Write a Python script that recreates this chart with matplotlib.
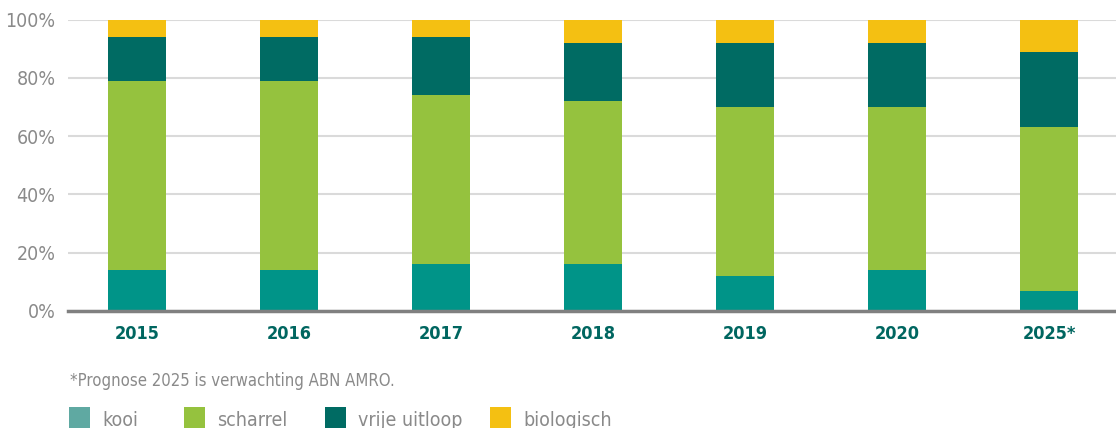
import matplotlib
matplotlib.use("Agg")
import matplotlib.pyplot as plt
from matplotlib.patches import Rectangle
import numpy as np

years = ["2015", "2016", "2017", "2018", "2019", "2020", "2025*"]
series = ["kooi", "scharrel", "vrije uitloop", "biologisch"]
kooi = [14, 14, 16, 16, 12, 14, 7]
scharrel = [65, 65, 58, 56, 58, 56, 56]
vrije_uitloop = [15, 15, 20, 20, 22, 22, 26]
biologisch = [6, 6, 6, 8, 8, 8, 11]
yticks = [0, 20, 40, 60, 80, 100]
footnote = "*Prognose 2025 is verwachting ABN AMRO."

bar_colors = ["#009488", "#95c23e", "#006b63", "#f4c012"]
legend_colors = ["#5fa9a2", "#95c23e", "#006b63", "#f4c012"]
grey = "#8a8a8a"

plt.rcParams["font.family"] = ["DejaVu Sans"]
plt.rcParams["font.stretch"] = "condensed"

W, H = 1116, 428
fig = plt.figure(figsize=(W / 100, H / 100), dpi=100)
ax = fig.add_axes([68 / W, 1 - 311 / H, 1 - 68 / W, (311 - 19.7) / H])

x = np.arange(len(years))
bottom = np.zeros(len(years))
for vals, c in zip([kooi, scharrel, vrije_uitloop, biologisch], bar_colors):
    ax.bar(x, vals, bottom=bottom, width=0.38, color=c, zorder=3)
    bottom += np.array(vals)

ax.set_xlim(-0.454, 6.44)
ax.set_ylim(0, 100)
ax.set_yticks(yticks)
ax.set_yticklabels([f"{t}%" for t in yticks], color=grey, fontsize=14)
ax.set_xticks(x)
ax.set_xticklabels(years, color="#006660", fontsize=13, fontweight="bold")
ax.tick_params(axis="both", length=0)
ax.tick_params(axis="y", pad=9)
ax.tick_params(axis="x", pad=10)
for s in ax.spines.values():
    s.set_visible(False)
ax.yaxis.grid(True, color="#dadada", linewidth=1.5, zorder=0)
ax.axhline(0, color="#808080", linewidth=2.5, zorder=4, clip_on=False)

# footnote
fig.text(70 / W, 1 - 386 / H, footnote, color=grey, fontsize=12, va="baseline", ha="left")

# legend, laid out by hand like the original
patch_x = [69, 184, 325, 490]
for px, name, c in zip(patch_x, series, legend_colors):
    fig.add_artist(Rectangle((px / W, 1 - 428 / H), 21 / W, 21 / H,
                             transform=fig.transFigure, facecolor=c, edgecolor="none"))
    fig.text((px + 33) / W, 1 - 426 / H, name, color=grey, fontsize=14,
             va="baseline", ha="left")

fig.savefig("out.png", dpi=100)
